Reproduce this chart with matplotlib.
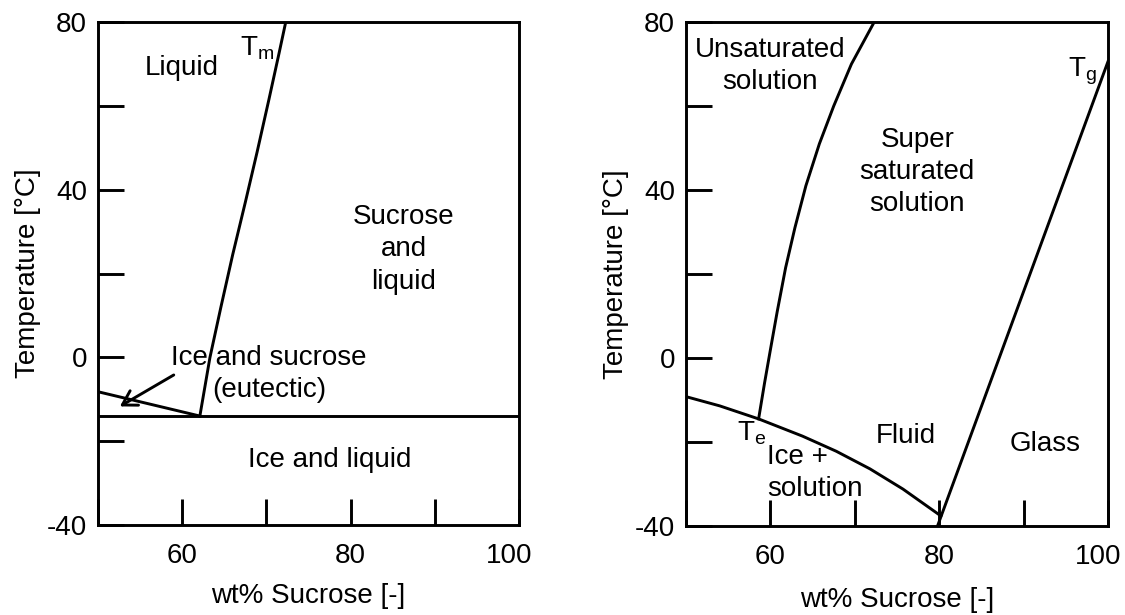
import matplotlib
matplotlib.use("Agg")
import matplotlib.pyplot as plt
import matplotlib.transforms as mtransforms

plt.rcParams['font.family'] = ['Liberation Sans', 'DejaVu Sans']
plt.rcParams['mathtext.fontset'] = 'custom'
plt.rcParams['mathtext.rm'] = 'Liberation Sans'
plt.rcParams['font.size'] = 20

# Left diagram: melting curve, eutectic branch and eutectic line
tm_wt = [62.1, 63.3, 64.6, 66.0, 67.5, 68.9, 70.3, 71.5, 72.3]
tm_temp = [-14.0, 0.0, 12.0, 24.5, 37.0, 49.0, 61.5, 72.5, 80.0]
eut_wt = [50.0, 62.1]
eut_temp = [-8.2, -14.0]
eut_line_wt = [50.0, 100.0]
eut_line_temp = [-14.0, -14.0]

# Right diagram: solubility curve, ice curve and glass transition
sol_wt = [58.6, 59.3, 60.0, 60.8, 61.8, 62.9, 64.2, 65.8, 67.5, 69.6, 72.3]
sol_temp = [-14.5, -6.0, 2.0, 11.0, 21.5, 31.0, 41.0, 51.0, 60.0, 70.0, 80.0]
ice_wt = [50.0, 54.0, 58.6, 63.8, 67.8, 71.8, 75.7, 80.2]
ice_temp = [-9.2, -11.4, -14.5, -18.6, -22.2, -26.4, -31.2, -37.6]
glass_wt = [79.8, 100.0]
glass_temp = [-40.0, 70.6]

xticks = [50, 60, 70, 80, 90, 100]
xticklabels = ['', '60', '', '80', '', '100']
yticks = [-40, -20, 0, 20, 40, 60, 80]
yticklabels = ['-40', '', '0', '', '40', '', '80']

lw = 2.1

fig = plt.figure(figsize=(11.25, 6.15), dpi=100)
ax1 = fig.add_axes([0.0871, 0.1463, 0.3742, 0.8179])
ax2 = fig.add_axes([0.6098, 0.1447, 0.3751, 0.8195])

for ax in (ax1, ax2):
    ax.set_xlim(50, 100)
    ax.set_ylim(-40, 80)
    ax.set_xticks(xticks)
    ax.set_xticklabels(xticklabels)
    ax.set_yticks(yticks)
    ax.set_yticklabels(yticklabels)
    ax.tick_params(axis='both', direction='in', length=19, width=lw, labelsize=20)
    ax.tick_params(axis='x', pad=13)
    ax.tick_params(axis='y', pad=8)
    for s in ax.spines.values():
        s.set_linewidth(lw)
    ax.set_ylabel('Temperature [°C]', fontsize=20, labelpad=4)
    # the "100" label sits a little left of its tick
    shift = mtransforms.ScaledTranslation(-7 / 72, 0, fig.dpi_scale_trans)
    lbl = ax.get_xticklabels()[-1]
    lbl.set_transform(lbl.get_transform() + shift)

ax1.set_xlabel('wt% Sucrose [-]', fontsize=20, labelpad=10)
ax2.set_xlabel('wt% Sucrose [-]', fontsize=20, labelpad=12)

# left
ax1.plot(tm_wt, tm_temp, color='black', lw=lw)
ax1.plot(eut_wt, eut_temp, color='black', lw=lw)
ax1.plot(eut_line_wt, eut_line_temp, color='black', lw=lw)
ax1.annotate('', xy=(52.6, -11.7), xytext=(59.0, -4.2),
             arrowprops=dict(arrowstyle='->,head_length=0.5,head_width=0.3',
                             mutation_scale=20, lw=lw, color='black',
                             shrinkA=0, shrinkB=0))
ax1.text(59.9, 69.0, 'Liquid', ha='center', va='center')
ax1.text(66.9, 72.1, r'$\mathrm{T_m}$', ha='left', va='baseline')
ax1.text(86.3, 25.8, 'Sucrose\nand\nliquid', ha='center', va='center',
         linespacing=1.32)
ax1.text(70.3, -4.0, 'Ice and sucrose\n(eutectic)', ha='center', va='center',
         linespacing=1.32)
ax1.text(77.5, -24.4, 'Ice and liquid', ha='center', va='center')

# right
ax2.plot(sol_wt, sol_temp, color='black', lw=lw)
ax2.plot(ice_wt, ice_temp, color='black', lw=lw)
ax2.plot(glass_wt, glass_temp, color='black', lw=lw)
ax2.text(60.0, 69.5, 'Unsaturated\nsolution', ha='center', va='center',
         linespacing=1.3)
ax2.text(77.4, 44.2, 'Super\nsaturated\nsolution', ha='center', va='center',
         linespacing=1.3)
ax2.text(76.0, -18.5, 'Fluid', ha='center', va='center')
ax2.text(92.5, -20.4, 'Glass', ha='center', va='center')
ax2.text(56.0, -19.7, r'$\mathrm{T_e}$', ha='left', va='baseline')
ax2.text(59.6, -27.4, 'Ice +\nsolution', ha='left', va='center',
         linespacing=1.26)
ax2.text(95.3, 67.1, r'$\mathrm{T_g}$', ha='left', va='baseline')

fig.savefig('out.png', dpi=100)
